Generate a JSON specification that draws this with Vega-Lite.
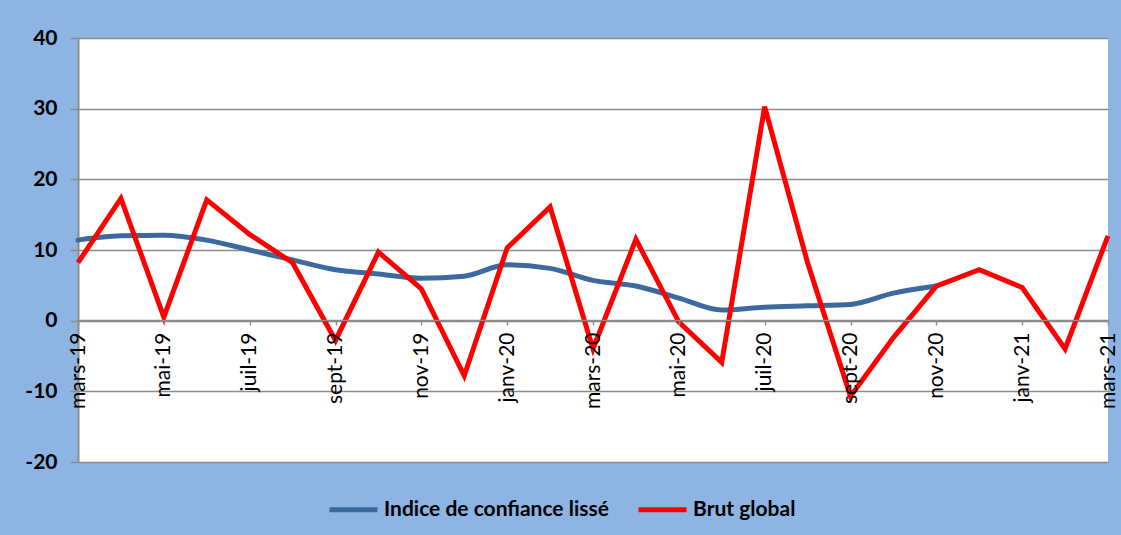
{
  "$schema": "https://vega.github.io/schema/vega-lite/v6.json",
  "width": 1030,
  "height": 424,
  "autosize": {"type": "none"},
  "padding": {"left": 78, "top": 38, "right": 13, "bottom": 73},
  "background": "#8DB4E2",
  "config": {
    "view": {"stroke": null, "fill": "white"},
    "font": "Lato"
  },
  "data": {
    "values": [
      {"mois": "mars-19", "serie": "Brut global", "valeur": 8.2},
      {"mois": "avr-19", "serie": "Brut global", "valeur": 17.3},
      {"mois": "mai-19", "serie": "Brut global", "valeur": 0.5},
      {"mois": "juin-19", "serie": "Brut global", "valeur": 17.1},
      {"mois": "juil-19", "serie": "Brut global", "valeur": 12.2},
      {"mois": "août-19", "serie": "Brut global", "valeur": 8.2},
      {"mois": "sept-19", "serie": "Brut global", "valeur": -2.8},
      {"mois": "oct-19", "serie": "Brut global", "valeur": 9.7},
      {"mois": "nov-19", "serie": "Brut global", "valeur": 4.5},
      {"mois": "déc-19", "serie": "Brut global", "valeur": -7.8},
      {"mois": "janv-20", "serie": "Brut global", "valeur": 10.3},
      {"mois": "févr-20", "serie": "Brut global", "valeur": 16.1},
      {"mois": "mars-20", "serie": "Brut global", "valeur": -4.0},
      {"mois": "avr-20", "serie": "Brut global", "valeur": 11.5},
      {"mois": "mai-20", "serie": "Brut global", "valeur": -0.2},
      {"mois": "juin-20", "serie": "Brut global", "valeur": -5.9},
      {"mois": "juil-20", "serie": "Brut global", "valeur": 30.3},
      {"mois": "août-20", "serie": "Brut global", "valeur": 8.2},
      {"mois": "sept-20", "serie": "Brut global", "valeur": -10.7},
      {"mois": "oct-20", "serie": "Brut global", "valeur": -2.4},
      {"mois": "nov-20", "serie": "Brut global", "valeur": 4.9},
      {"mois": "déc-20", "serie": "Brut global", "valeur": 7.2},
      {"mois": "janv-21", "serie": "Brut global", "valeur": 4.7},
      {"mois": "févr-21", "serie": "Brut global", "valeur": -4.0},
      {"mois": "mars-21", "serie": "Brut global", "valeur": 12.0},
      {"mois": "mars-19", "serie": "Indice de confiance lissé", "valeur": 11.4},
      {"mois": "avr-19", "serie": "Indice de confiance lissé", "valeur": 12.0},
      {"mois": "mai-19", "serie": "Indice de confiance lissé", "valeur": 12.1},
      {"mois": "juin-19", "serie": "Indice de confiance lissé", "valeur": 11.4},
      {"mois": "juil-19", "serie": "Indice de confiance lissé", "valeur": 10.0},
      {"mois": "août-19", "serie": "Indice de confiance lissé", "valeur": 8.6},
      {"mois": "sept-19", "serie": "Indice de confiance lissé", "valeur": 7.2},
      {"mois": "oct-19", "serie": "Indice de confiance lissé", "valeur": 6.6},
      {"mois": "nov-19", "serie": "Indice de confiance lissé", "valeur": 6.0},
      {"mois": "déc-19", "serie": "Indice de confiance lissé", "valeur": 6.3},
      {"mois": "janv-20", "serie": "Indice de confiance lissé", "valeur": 7.9},
      {"mois": "févr-20", "serie": "Indice de confiance lissé", "valeur": 7.4},
      {"mois": "mars-20", "serie": "Indice de confiance lissé", "valeur": 5.7},
      {"mois": "avr-20", "serie": "Indice de confiance lissé", "valeur": 4.9},
      {"mois": "mai-20", "serie": "Indice de confiance lissé", "valeur": 3.2},
      {"mois": "juin-20", "serie": "Indice de confiance lissé", "valeur": 1.5},
      {"mois": "juil-20", "serie": "Indice de confiance lissé", "valeur": 1.9},
      {"mois": "août-20", "serie": "Indice de confiance lissé", "valeur": 2.1},
      {"mois": "sept-20", "serie": "Indice de confiance lissé", "valeur": 2.3},
      {"mois": "oct-20", "serie": "Indice de confiance lissé", "valeur": 3.9},
      {"mois": "nov-20", "serie": "Indice de confiance lissé", "valeur": 4.9}
    ]
  },
  "encoding": {
    "x": {
      "field": "mois",
      "type": "ordinal",
      "sort": null,
      "scale": {"type": "point", "padding": 0},
      "axis": {
        "title": null,
        "values": ["mars-19", "mai-19", "juil-19", "sept-19", "nov-19", "janv-20", "mars-20", "mai-20", "juil-20", "sept-20", "nov-20", "janv-21", "mars-21"],
        "offset": -142,
        "labelAngle": -90,
        "labelFontSize": 21,
        "labelColor": "#000000",
        "labelPadding": 7,
        "labelLimit": 300,
        "labelOverlap": false,
        "tickSize": 5,
        "tickColor": "#8c8c8c",
        "tickWidth": 1.5,
        "domainColor": "#8c8c8c",
        "domainWidth": 1.5,
        "grid": false,
        "zindex": 1
      }
    },
    "y": {
      "field": "valeur",
      "type": "quantitative",
      "scale": {"domain": [-20, 40], "nice": false, "zero": false},
      "axis": {
        "title": null,
        "values": [-20, -10, 0, 10, 20, 30, 40],
        "labelExpr": "replace(datum.label, '\u2212', '-')",
        "labelFontSize": 21,
        "labelFontWeight": "bold",
        "labelColor": "#000000",
        "labelPadding": 13,
        "tickSize": 8,
        "tickColor": "#8c8c8c",
        "tickWidth": 1.5,
        "domainColor": "#8c8c8c",
        "domainWidth": 2,
        "gridColor": "#8c8c8c",
        "gridWidth": 1.5,
        "gridOpacity": 1
      }
    },
    "color": {
      "field": "serie",
      "type": "nominal",
      "scale": {"domain": ["Indice de confiance lissé", "Brut global"], "range": ["#3D6A9E", "#FF0000"]},
      "legend": {
        "title": null,
        "orient": "none",
        "legendX": 249,
        "legendY": 445,
        "direction": "horizontal",
        "symbolType": "stroke",
        "symbolSize": 2304,
        "symbolStrokeWidth": 5,
        "labelFontSize": 21,
        "labelFontWeight": "bold",
        "labelColor": "#000000",
        "labelLimit": 400,
        "labelOffset": 4,
        "columnPadding": 19
      }
    }
  },
  "layer": [
    {
      "transform": [{"filter": "datum.serie === 'Indice de confiance lissé'"}],
      "mark": {"type": "line", "strokeWidth": 5, "interpolate": "monotone", "strokeCap": "round"}
    },
    {
      "transform": [{"filter": "datum.serie === 'Brut global'"}],
      "mark": {"type": "line", "strokeWidth": 5, "strokeJoin": "miter", "strokeCap": "butt"}
    }
  ]
}
